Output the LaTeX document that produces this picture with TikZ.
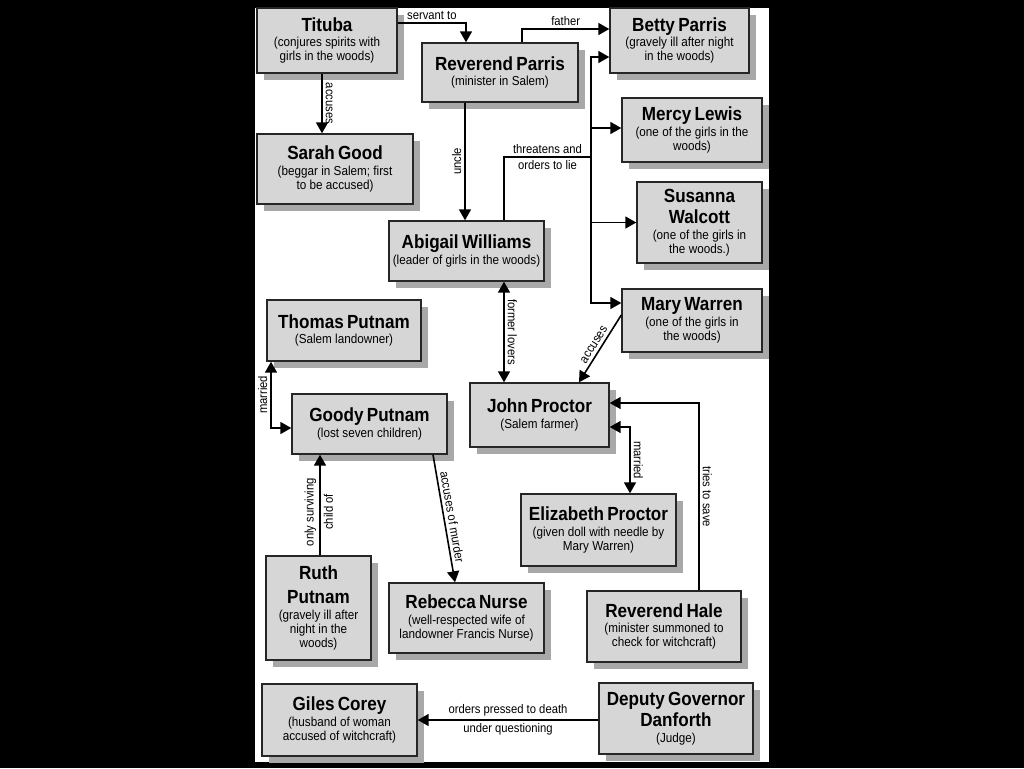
\documentclass[tikz,border=0pt]{standalone}
\usepackage{fontspec}
\setmainfont{Liberation Sans}
\newfontfamily\condfont[FakeStretch=0.9]{Liberation Sans}
\usetikzlibrary{arrows.meta,shadows}

\newcommand{\namefont}{\condfont\bfseries\fontsize{19}{21}\selectfont}
\newcommand{\notefont}{\condfont\fontsize{13}{14}\selectfont}
\newcommand{\who}[2]{{\namefont #1\par}\vspace{1.5pt}{\notefont #2\par}}

\tikzset{
  person/.style 2 args={draw=black!85, line width=1.4pt, fill=black!16, inner sep=0pt,
    align=center, minimum width=#1pt, minimum height=#2pt, text width=#1pt,
    drop shadow={shadow xshift=7pt, shadow yshift=-7pt, fill=black!34, opacity=1}},
  conn/.style={line width=1.6pt, -{Triangle[length=11pt,width=12pt]}},
  twoway/.style={line width=1.6pt, {Triangle[length=11pt,width=12pt]}-{Triangle[length=11pt,width=12pt]}},
  link/.style={line width=1.6pt},
  lbl/.style={font=\condfont\fontsize{12.5}{14}\selectfont, inner sep=3pt}
}

\begin{document}
\begin{tikzpicture}[x=1pt,y=-1pt]
    % page and white panel
    \fill[black] (0,0) rectangle (1024,768);
    \fill[white] (255,8) rectangle (769,762);

    % the people
    \node[person={140}{65}] (tituba) at (327,40.5) {\who{Tituba}{(conjures spirits with\\girls in the woods)}};
    \node[person={156}{59}] (parris) at (500,72.5) {\who{Reverend Parris}{(minister in Salem)}};
    \node[person={139}{65}] (betty) at (679.5,40.5) {\who{Betty Parris}{(gravely ill after night\\in the woods)}};
    \node[person={140}{64}] (mercy) at (692,130) {\who{Mercy Lewis}{(one of the girls in the\\woods)}};
    \node[person={125}{81}] (susanna) at (699.5,222.5) {\who{Susanna\\Walcott}{(one of the girls in\\the woods.)}};
    \node[person={140}{63}] (mary) at (692,320.5) {\who{Mary Warren}{(one of the girls in\\the woods)}};
    \node[person={156}{70}] (sarah) at (335,169) {\who{Sarah Good}{(beggar in Salem; first\\to be accused)}};
    \node[person={155}{60}] (abigail) at (466.5,251) {\who{Abigail Williams}{(leader of girls in the woods)}};
    \node[person={154}{61}] (thomas) at (344,330.5) {\who{Thomas Putnam}{(Salem landowner)}};
    \node[person={155}{60}] (goody) at (369.5,424) {\who{Goody Putnam}{(lost seven children)}};
    \node[person={139}{64}] (john) at (539.5,415) {\who{John Proctor}{(Salem farmer)}};
    \node[person={155}{72}] (elizabeth) at (598.5,530) {\who{Elizabeth Proctor}{(given doll with needle by\\Mary Warren)}};
    \node[person={105}{104}] (ruth) at (318.5,608) {\who{Ruth\\[3pt]Putnam}{(gravely ill after\\night in the\\woods)}};
    \node[person={155}{70}] (rebecca) at (466.5,618) {\who{Rebecca Nurse}{(well-respected wife of\\landowner Francis Nurse)}};
    \node[person={154}{71}] (hale) at (664,626.5) {\who{Reverend Hale}{(minister summoned to\\check for witchcraft)}};
    \node[person={155}{72}] (giles) at (339.5,720) {\who{Giles Corey}{(husband of woman\\accused of witchcraft)}};
    \node[person={154}{71}] (danforth) at (676,718.5) {\who{Deputy Governor\\Danforth}{(Judge)}};

    % Tituba
    \draw[conn] ([yshift=17.5pt]tituba.east) -| node[lbl, pos=0.25, above] {servant to} ([xshift=-34pt]parris.north);
    \draw[conn] ([xshift=-5pt]tituba.south) -- node[lbl, midway, rotate=-90, anchor=south] {accuses} ([xshift=-13pt]sarah.north);

    % Reverend Parris
    \draw[conn] ([xshift=22pt]parris.north) |- node[lbl, pos=0.75, above] {father} ([yshift=11.5pt]betty.west);
    \draw[conn] ([xshift=-35pt]parris.south) -- node[lbl, midway, rotate=90, anchor=south] {uncle} ([xshift=-1.5pt]abigail.north);

    % Abigail and the girls
    \coordinate (hub) at (591,157);
    \draw[link] ([xshift=37.5pt]abigail.north) |- node[lbl, pos=0.75, above] {threatens and} node[lbl, pos=0.75, below] {orders to lie} (hub);
    \draw[conn] (hub) |- ([yshift=-16.5pt]betty.west);
    \draw[conn] (hub) |- ([yshift=2pt]mercy.west);
    \draw[conn] (hub) |- (susanna.west);
    \draw[conn] (hub) |- ([yshift=17.5pt]mary.west);
    \draw[twoway] ([xshift=37.5pt]abigail.south) -- node[lbl, midway, rotate=-90, anchor=south] {former lovers} ([xshift=-35.5pt]john.north);
    \draw[conn] ([yshift=5.5pt]mary.west) -- node[lbl, midway, sloped, above] {accuses} ([xshift=39.5pt]john.north);

    % the Putnams
    \draw[twoway] ([xshift=-73pt]thomas.south) |- node[lbl, pos=0.25, rotate=90, anchor=south] {married} ([yshift=-4pt]goody.west);
    \draw[conn] ([xshift=1.5pt]ruth.north) -- node[lbl, pos=0.43, rotate=90, anchor=south] {only surviving} node[lbl, pos=0.43, rotate=90, anchor=north] {child of} ([xshift=-49.5pt]goody.south);
    \draw[conn] ([xshift=63.5pt]goody.south) -- node[lbl, midway, sloped, above] {accuses of murder} ([xshift=-11.5pt]rebecca.north);

    % the Proctors and Hale
    \draw[twoway] ([yshift=-12pt]john.east) -| node[lbl, pos=0.75, rotate=-90, anchor=south] {married} ([xshift=31.5pt]elizabeth.north);
    \draw[conn] ([xshift=35pt]hale.north) |- node[lbl, pos=0.25, rotate=-90, anchor=south] {tries to save} ([yshift=12pt]john.east);

    % Danforth
    \draw[conn] ([yshift=-1.5pt]danforth.west) -- node[lbl, midway, above] {orders pressed to death} node[lbl, midway, below] {under questioning} (giles.east);
\end{tikzpicture}
\end{document}
